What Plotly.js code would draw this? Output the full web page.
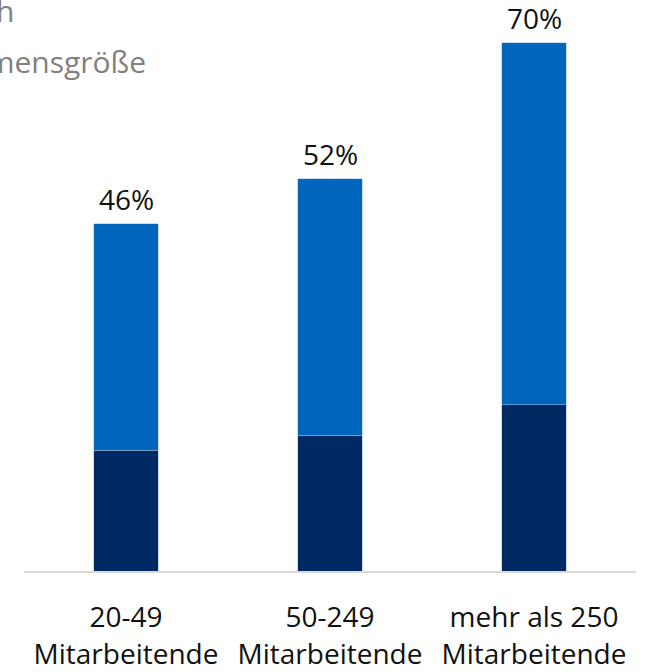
<!DOCTYPE html>
<html>
<head>
<meta charset="utf-8">
<script src="https://cdn.plot.ly/plotly-3.0.1.min.js"></script>
<style>html,body{margin:0;padding:0;background:#fff;}#chart{width:645px;height:672px;}</style>
</head>
<body>
<div id="chart"></div>
<script>
const categories = ["20-49<br>Mitarbeitende", "50-249<br>Mitarbeitende", "mehr als 250<br>Mitarbeitende"];
const darkValues = [16, 18, 22];
const lightValues = [30, 34, 48];
const totals = darkValues.map((v, i) => v + lightValues[i]);
const totalLabels = totals.map(v => v + "%");
const titleLine1 = "Anteil der Unternehmen nach";
const titleLine2 = "Unternehmensgröße";

const FONT = "Open Sans, Liberation Sans, sans-serif";

const traces = [
  {
    type: "bar", x: categories, y: darkValues, width: 0.314,
    marker: {color: "#002863", line: {color: "rgba(150,180,225,0.7)", width: 0.75}},
    hoverinfo: "skip"
  },
  {
    type: "bar", x: categories, y: lightValues, width: 0.314,
    marker: {color: "#0066BD", line: {color: "rgba(150,190,235,0.7)", width: 0.75}},
    hoverinfo: "skip"
  }
];

const labelAnnotations = categories.map((c, i) => ({
  text: totalLabels[i], x: c, y: totals[i], xref: "x", yref: "y",
  xanchor: "center", yanchor: "bottom", yshift: 4, showarrow: false,
  font: {family: FONT, size: 28, color: "#111"}
}));

const layout = {
  width: 645, height: 672,
  margin: {l: 24, r: 9, t: 5, b: 101},
  barmode: "stack",
  showlegend: false,
  paper_bgcolor: "#fff", plot_bgcolor: "#fff",
  font: {family: FONT, color: "#111"},
  xaxis: {
    showline: true, linecolor: "#d9d9d9", linewidth: 1.5,
    ticks: "", showgrid: false, zeroline: false,
    ticklabelstandoff: 21,
    tickfont: {family: FONT, size: 28, color: "#111"},
    fixedrange: true
  },
  yaxis: {
    range: [0, 75], visible: false, showgrid: false, zeroline: false, fixedrange: true
  },
  annotations: labelAnnotations.concat([
    {text: titleLine1, xref: "paper", yref: "paper", x: (16 - 24) / 612, y: 0.99,
     xanchor: "right", yanchor: "middle", showarrow: false,
     font: {family: FONT, size: 30, color: "#808080"}},
    {text: titleLine2, xref: "paper", yref: "paper", x: (148 - 24) / 612, y: 0.9,
     xanchor: "right", yanchor: "middle", showarrow: false,
     font: {family: FONT, size: 30, color: "#808080"}}
  ])
};

Plotly.newPlot("chart", traces, layout, {displayModeBar: false, staticPlot: true});
</script>
</body>
</html>
